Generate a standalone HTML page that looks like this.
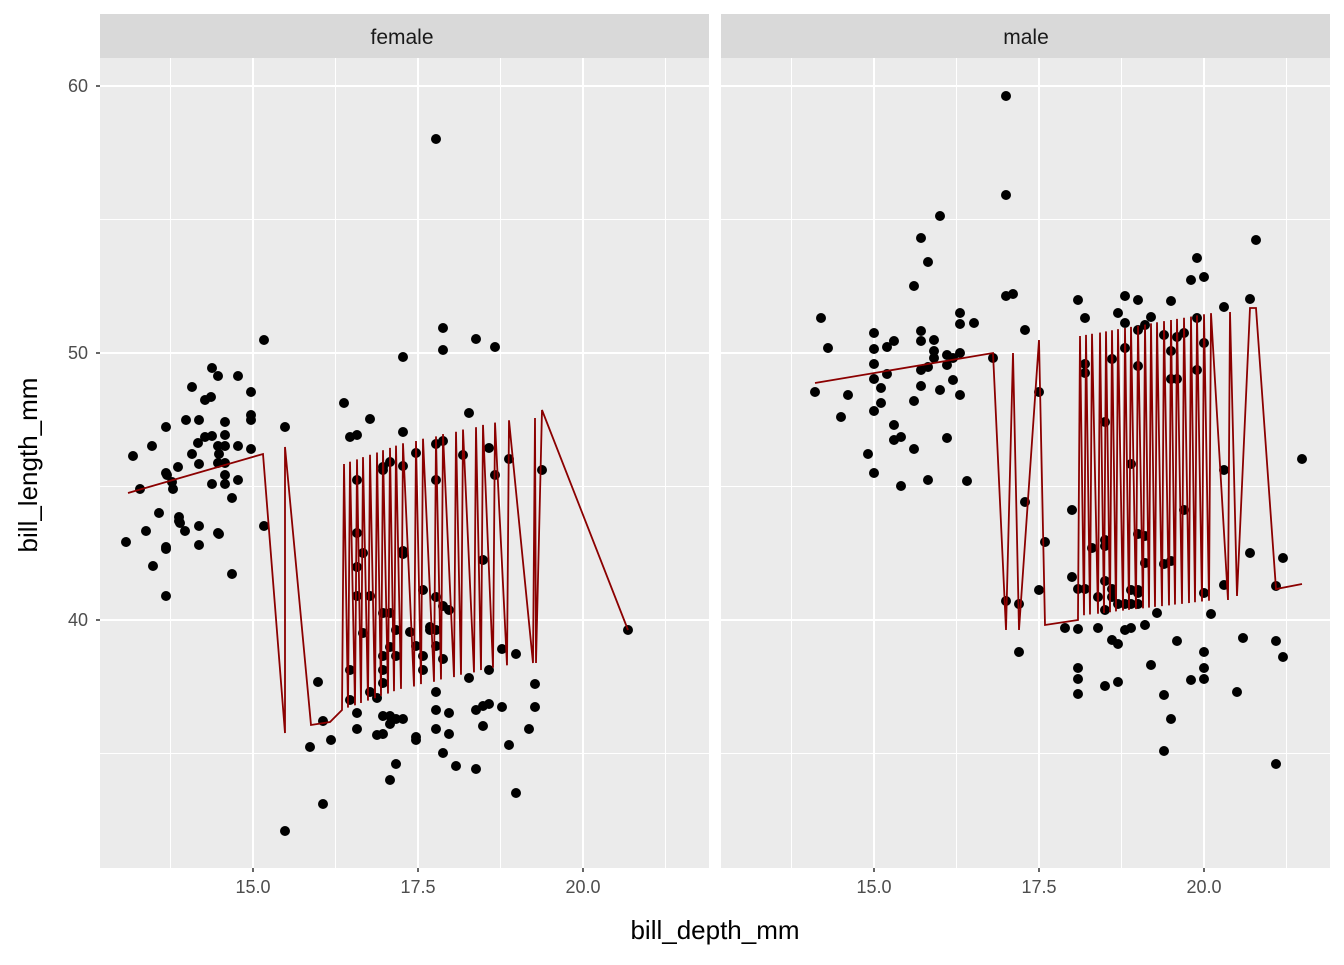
<!DOCTYPE html>
<html><head><meta charset="utf-8"><style>
html,body{margin:0;padding:0;background:#fff;}
svg text{font-family:"Liberation Sans","DejaVu Sans",sans-serif;}
</style></head><body>
<svg id="s" width="1344" height="960" xmlns="http://www.w3.org/2000/svg">
<rect width="1344" height="960" fill="#fff"/>
<g id="g"></g>
<text x="402" y="44" font-size="21" fill="#1a1a1a" text-anchor="middle">female</text>
<text x="1026" y="44" font-size="21" fill="#1a1a1a" text-anchor="middle">male</text>
<g font-size="18" fill="#4d4d4d" text-anchor="end">
<text x="88" y="92">60</text><text x="88" y="359">50</text><text x="88" y="626">40</text>
</g>
<g font-size="18" fill="#4d4d4d" text-anchor="middle">
<text x="253" y="893">15.0</text><text x="418" y="893">17.5</text><text x="583" y="893">20.0</text>
<text x="874" y="893">15.0</text><text x="1039" y="893">17.5</text><text x="1204" y="893">20.0</text>
</g>
<text x="715" y="939" font-size="26" fill="#000" text-anchor="middle">bill_depth_mm</text>
<text transform="translate(37,465) rotate(-90)" font-size="26" fill="#000" text-anchor="middle">bill_length_mm</text>
</svg>
<script>
var g=document.getElementById('g'),h='';
function panel(x0,x15,yt){
 h+='<rect x="'+x0+'" y="14" width="609" height="44" fill="#d9d9d9"/>';
 h+='<rect x="'+x0+'" y="58" width="609" height="810" fill="#ebebeb"/>';
 [86,353,620].forEach(function(y){h+='<line x1="'+x0+'" x2="'+(x0+609)+'" y1="'+y+'" y2="'+y+'" stroke="#fff" stroke-width="2"/>';});
 [219.5,486.5,753.5].forEach(function(y){h+='<line x1="'+x0+'" x2="'+(x0+609)+'" y1="'+y+'" y2="'+y+'" stroke="#fff" stroke-width="1"/>';});
 [0,165,330].forEach(function(d){var x=x15+d;h+='<line x1="'+x+'" x2="'+x+'" y1="58" y2="868" stroke="#fff" stroke-width="2"/>';});
 [-82.5,82.5,247.5,412.5].forEach(function(d){var x=x15+d;h+='<line x1="'+x+'" x2="'+x+'" y1="58" y2="868" stroke="#fff" stroke-width="1"/>';});
 if(yt)[86,353,620].forEach(function(y){h+='<line x1="'+(x0-4)+'" x2="'+x0+'" y1="'+y+'" y2="'+y+'" stroke="#333" stroke-width="1.5"/>';});
 [0,165,330].forEach(function(d){var x=x15+d;h+='<line x1="'+x+'" x2="'+x+'" y1="868" y2="872" stroke="#333" stroke-width="1.5"/>';});
}
panel(100,253,true);panel(721,874,false);
var F=[126,542,133,456,140,489,146,531,152,446,153,566,159,513,166,427,166,473,167,475,166,549,166,547,166,596,172,482,173,489,178,467,179,521,179,517,180,523,185,531,186,420,192,387,192,454,198,443,199,420,199,526,199,545,199,464,205,437,205,400,211,397,212,368,212,484,212,436,218,533,218,463,218,446,218,376,219,534,219,454,225,484,225,475,225,435,225,446,225,422,225,463,232,574,232,498,238,376,238,446,238,480,251,392,251,415,251,420,251,449,264,340,264,526,285,427,285,831,318,682,310,747,323,721,323,804,331,740,344,403,350,437,350,670,350,700,357,435,357,480,357,533,357,567,357,596,357,713,357,729,363,553,363,633,370,419,370,692,370,596,377,698,377,735,383,734,383,716,383,656,383,670,383,683,383,613,383,467,383,470,390,462,390,613,390,647,390,716,390,724,390,780,396,719,396,764,396,630,396,656,403,432,403,551,403,554,403,466,403,357,403,719,410,632,416,453,416,737,416,740,416,646,423,590,423,656,423,670,430,627,430,630,436,630,436,710,436,692,436,729,436,646,436,480,436,444,443,441,443,328,443,350,443,606,443,659,443,753,449,610,449,713,449,734,456,766,463,455,469,678,469,413,476,339,476,769,476,710,483,726,483,706,483,560,489,704,489,448,489,670,495,475,495,347,502,649,502,707,509,745,509,459,516,654,516,793,529,729,535,684,535,707,542,470,628,630,436,139,436,597];
var M=[815,392,821,318,828,348,841,417,848,395,868,454,874,333,874,349,874,364,874,379,874,411,874,473,881,388,881,403,887,347,887,374,894,341,894,425,894,440,901,437,901,486,914,286,914,401,914,449,921,238,921,331,921,341,921,370,921,386,928,262,928,367,928,480,934,340,934,351,934,358,940,216,940,390,947,355,947,365,947,438,953,358,953,380,960,313,960,324,960,353,960,395,967,481,974,323,993,358,1006,96,1006,195,1006,296,1006,601,1013,294,1019,604,1019,652,1025,330,1025,502,1039,392,1039,590,1045,542,1065,628,1072,510,1072,577,1078,300,1078,589,1078,629,1078,668,1078,679,1078,694,1085,318,1085,364,1085,589,1085,373,1092,548,1098,597,1098,628,1105,686,1105,581,1105,422,1105,546,1105,540,1105,610,1112,359,1112,589,1112,597,1112,640,1118,313,1118,644,1118,604,1118,682,1125,296,1125,323,1125,348,1125,604,1125,630,1131,464,1131,604,1131,628,1131,590,1138,300,1138,330,1138,366,1138,534,1138,590,1138,604,1138,593,1145,563,1145,325,1145,536,1145,625,1151,317,1151,665,1157,613,1164,564,1164,335,1164,695,1164,751,1171,301,1171,351,1171,379,1171,719,1171,561,1177,379,1177,641,1177,337,1184,333,1184,510,1191,280,1191,680,1197,318,1197,370,1197,258,1204,277,1204,343,1204,593,1204,668,1204,679,1204,652,1211,614,1224,307,1224,470,1224,585,1237,692,1243,638,1250,299,1250,553,1256,240,1276,586,1276,641,1276,764,1283,558,1283,657,1302,459];
function zig(xs,t0,t1,b0,b1){var p=[],n=xs.length;for(var i=0;i<n;i++){var f=i/(n-1);p.push(xs[i]-2,b0+(b1-b0)*f,xs[i],t0+(t1-t0)*f);}return p;}
var fl=[128,493,263,454,285,733,285,447,311,725,330,722].concat(zig([344,350,357,363,370,377,383,390,396,403,416,423,436,443,456,463,476,483,495,509,535],464,418,710,663)).concat([536,663,542,410,628,630]);
var ml=[815,383,993,353,1006,630,1013,353,1019,630,1039,340,1045,625,1078,620].concat(zig([1080,1086,1092,1100,1106,1112,1118,1125,1131,1138,1145,1151,1157,1164,1171,1177,1184,1191,1197,1204,1211,1230],336,312,616,600)).concat([1237,596,1250,308,1256,308,1276,589,1302,584]);
function pl(a){var s='';for(var i=0;i<a.length;i+=2)s+=a[i]+','+a[i+1]+' ';return '<polyline points="'+s+'" fill="none" stroke="#8b0000" stroke-width="1.8"/>';}
function pts(a){for(var i=0;i<a.length;i+=2)h+='<circle cx="'+a[i]+'" cy="'+a[i+1]+'" r="5" fill="#000"/>';}
pts(F);pts(M);h+=pl(fl)+pl(ml);
g.innerHTML=h;
</script>
</body></html>
